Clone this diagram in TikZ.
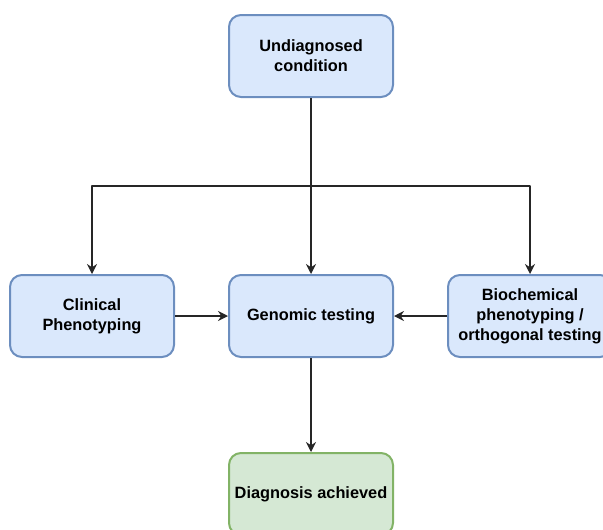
\documentclass[tikz,border=0pt]{standalone}
\usepackage{fontspec}
\setmainfont{Liberation Sans}
\usetikzlibrary{arrows.meta}
\definecolor{bluefill}{HTML}{DAE8FC}
\definecolor{bluestroke}{HTML}{6C8EBF}
\definecolor{greenfill}{HTML}{D5E8D4}
\definecolor{greenstroke}{HTML}{82B366}

\begin{document}
\begin{tikzpicture}[>={Stealth[length=10bp,width=10bp]},line join=bevel,
  bluebox/.style={draw=bluestroke,fill=bluefill,line width=2bp,rounded corners=12bp,
    minimum width=164bp,minimum height=82bp,inner sep=0pt,align=center,
    font=\fontsize{16.4}{20}\selectfont\bfseries},
  greenbox/.style={bluebox,draw=greenstroke,fill=greenfill},
  link/.style={->,line width=1.3bp,draw=black!85}]
\useasboundingbox (0bp,0bp) rectangle (603bp,-530bp);
%%
  % Node: undiag
  \node [bluebox] (undiag) at (311bp,-56bp) {Undiagnosed\\condition};
  % Node: clinical
  \node [bluebox] (clinical) at (92bp,-316bp) {Clinical\\Phenotyping};
  % Node: genomic
  \node [bluebox] (genomic) at (311bp,-316bp) {Genomic testing};
  % Node: biochem
  \node [bluebox] (biochem) at (530bp,-316bp) {Biochemical\\phenotyping /\\orthogonal testing};
  % Node: diag
  \node [greenbox] (diag) at (311bp,-494bp) {Diagnosis achieved};
  % Split point below undiag
  \coordinate (split) at (311bp,-186bp);
%%
  % Edge: undiag -> genomic
  \draw [link] (undiag) -- (genomic);
  % Edge: undiag -> clinical
  \draw [link] (split) -| (clinical);
  % Edge: undiag -> biochem
  \draw [link] (split) -| (biochem);
  % Edge: clinical -> genomic
  \draw [link] (clinical) -- (genomic);
  % Edge: biochem -> genomic
  \draw [link] (biochem) -- (genomic);
  % Edge: genomic -> diag
  \draw [link] (genomic) -- (diag);
%
\end{tikzpicture}
\end{document}
